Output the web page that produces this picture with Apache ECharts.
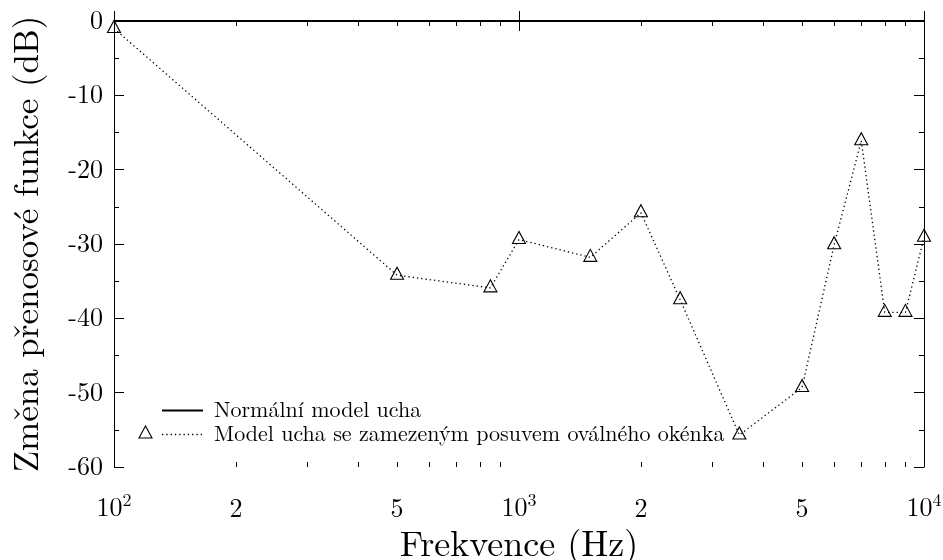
<!DOCTYPE html>
<html>
<head>
<meta charset="utf-8">
<script src="https://cdn.jsdelivr.net/npm/echarts@6/dist/echarts.min.js"></script>
<style>
  html, body { margin: 0; padding: 0; background: #fff; }
  #chart { width: 943px; height: 560px; }
</style>
</head>
<body>
<div id="chart"></div>
<script>
// Measured change of the transfer function (dB) versus frequency (Hz)
const freqs    = [100, 500, 850, 1000, 1500, 2000, 2500, 3500, 5000, 6000, 7000, 8000, 9000, 10000];
const changeDb = [-1.0, -34.2, -35.9, -29.4, -31.8, -25.8, -37.5, -55.7, -49.3, -30.1, -16.1, -39.2, -39.2, -29.1];

// Reference model: no change across the whole band
const normalFreqs = [100, 10000];
const normalDb    = [0, 0];

const seriesNames = ['Normální model ucha', 'Model ucha se zamezeným posuvem oválného okénka'];

// Logarithmic minor ticks and the in-decade labels (2, 5)
const minorTickFreqs = [200, 300, 400, 500, 600, 700, 800, 900,
                        2000, 3000, 4000, 5000, 6000, 7000, 8000, 9000];
const midTickLabels  = [200, 500, 2000, 5000];

const yMin = -60, yMax = 0, yStep = 10;
const xMin = 100, xMax = 10000;

const FONT = 'Latin Modern Roman';
const BLACK = '#000';
const TICK_SIZE = 26;

const chart = echarts.init(document.getElementById('chart'), null, { renderer: 'canvas' });

const crisp = v => Math.round(v) + 0.5;

const baseXAxis = {
  type: 'log',
  logBase: 10,
  min: xMin,
  max: xMax,
  axisLine: { show: true, lineStyle: { color: BLACK, width: 1 } },
  axisTick: { show: true, inside: true, length: 10, lineStyle: { color: BLACK, width: 1 } },
  splitLine: { show: false },
  minorTick: { show: false },
  minorSplitLine: { show: false }
};

const baseYAxis = {
  type: 'value',
  min: yMin,
  max: yMax,
  interval: yStep,
  axisLine: { show: true, lineStyle: { color: BLACK, width: 1 } },
  axisTick: { show: true, inside: true, length: 10, lineStyle: { color: BLACK, width: 1 } },
  minorTick: { show: true, splitNumber: 2, length: 5, lineStyle: { color: BLACK, width: 1 } },
  splitLine: { show: false }
};

const legendY1 = 410, legendY2 = 434;

chart.setOption({
  animation: false,
  backgroundColor: '#fff',
  grid: { left: 114, right: 19, top: 21, bottom: 93, containLabel: false, outerBoundsMode: 'none' },
  xAxis: [
    Object.assign({}, baseXAxis, {
      position: 'bottom',
      name: 'Frekvence (Hz)',
      nameLocation: 'middle',
      nameGap: 60,
      nameTextStyle: { fontFamily: FONT, fontSize: 36, color: BLACK },
      axisLabel: {
        show: true,
        margin: 24,
        formatter: v => '{b|10}{s|' + Math.round(Math.log10(v)) + '}',
        rich: {
          b: { fontFamily: FONT, fontSize: TICK_SIZE, color: BLACK, verticalAlign: 'bottom', lineHeight: 30 },
          s: { fontFamily: FONT, fontSize: 18, color: BLACK, verticalAlign: 'top', lineHeight: 30, padding: [0, 0, 10, 0] }
        }
      }
    }),
    Object.assign({}, baseXAxis, {
      position: 'top',
      axisLabel: { show: false }
    })
  ],
  yAxis: [
    Object.assign({}, baseYAxis, {
      position: 'left',
      name: 'Změna přenosové funkce (dB)',
      nameLocation: 'middle',
      nameGap: 69,
      nameTextStyle: { fontFamily: FONT, fontSize: 35, color: BLACK },
      axisLabel: { show: true, margin: 11, fontFamily: FONT, fontSize: TICK_SIZE, color: BLACK }
    }),
    Object.assign({}, baseYAxis, {
      position: 'right',
      axisLabel: { show: false }
    })
  ],
  series: [
    {
      // log-scale minor ticks on the bottom and top edges, plus the 2 / 5 labels
      type: 'custom',
      xAxisIndex: 0,
      yAxisIndex: 0,
      clip: false,
      silent: true,
      z: 3,
      data: minorTickFreqs.map(f => [f]),
      encode: { x: 0 },
      renderItem: function (params, api) {
        const f = api.value(0);
        const b = api.coord([f, yMin]);
        const t = api.coord([f, yMax]);
        const x = crisp(b[0]);
        const children = [
          { type: 'line', shape: { x1: x, y1: b[1], x2: x, y2: b[1] - 5 },
            style: { stroke: BLACK, lineWidth: 1 } },
          { type: 'line', shape: { x1: x, y1: t[1], x2: x, y2: t[1] + 5 },
            style: { stroke: BLACK, lineWidth: 1 } }
        ];
        if (midTickLabels.indexOf(f) >= 0) {
          const mant = Math.round(f / Math.pow(10, Math.floor(Math.log10(f))));
          children.push({
            type: 'text',
            x: b[0],
            y: b[1] + 29,
            style: {
              text: String(mant),
              fontFamily: FONT,
              fontSize: TICK_SIZE,
              fill: BLACK,
              align: 'center',
              verticalAlign: 'top'
            }
          });
        }
        return { type: 'group', children: children };
      }
    },
    {
      name: seriesNames[0],
      type: 'line',
      data: normalFreqs.map((f, i) => [f, normalDb[i]]),
      symbol: 'none',
      z: 4,
      lineStyle: { color: BLACK, width: 2, type: 'solid' },
      emphasis: { disabled: true }
    },
    {
      name: seriesNames[1],
      type: 'line',
      data: freqs.map((f, i) => [f, changeDb[i]]),
      symbol: 'triangle',
      symbolSize: [13, 12],
      symbolOffset: [0, -2],
      showAllSymbol: true,
      clip: false,
      z: 5,
      lineStyle: { color: BLACK, width: 1.3, type: [1.3, 3], cap: 'butt' },
      itemStyle: { color: 'rgba(0,0,0,0)', borderColor: BLACK, borderWidth: 1.1 },
      emphasis: { disabled: true }
    }
  ],
  graphic: [
    { type: 'line', shape: { x1: 162, y1: legendY1 + 0.5, x2: 203, y2: legendY1 + 0.5 },
      style: { stroke: BLACK, lineWidth: 2 } },
    { type: 'text', x: 214, y: legendY1,
      style: { text: seriesNames[0], fontFamily: FONT, fontSize: 22, fill: BLACK, verticalAlign: 'middle' } },
    { type: 'polygon', shape: { points: [[145.5, legendY2 - 8], [139, legendY2 + 4], [152, legendY2 + 4]] },
      style: { fill: 'none', stroke: BLACK, lineWidth: 1.1 } },
    { type: 'line', shape: { x1: 162, y1: legendY2 + 0.5, x2: 203, y2: legendY2 + 0.5 },
      style: { stroke: BLACK, lineWidth: 1.3, lineDash: [1.3, 3] } },
    { type: 'text', x: 214, y: legendY2,
      style: { text: seriesNames[1], fontFamily: FONT, fontSize: 22, fill: BLACK, verticalAlign: 'middle' } }
  ]
});
</script>
</body>
</html>
